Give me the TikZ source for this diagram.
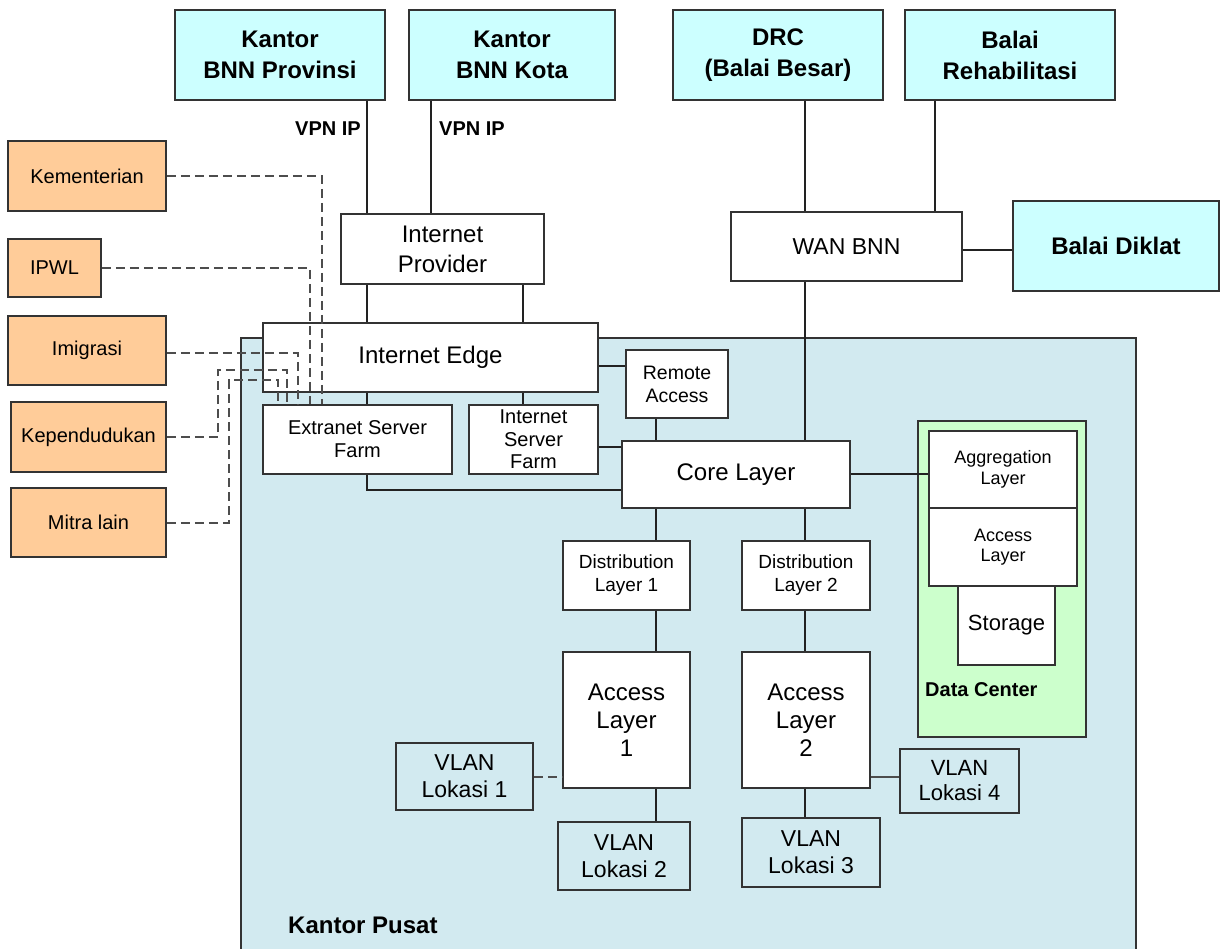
\documentclass[tikz,border=0pt]{standalone}
\usepackage{fontspec}
\setmainfont{Liberation Sans}
\definecolor{cyanbox}{HTML}{CCFFFF}
\definecolor{orangebox}{HTML}{FFCC99}
\definecolor{pusat}{HTML}{D2EAF0}
\definecolor{greenbox}{HTML}{CCFFCC}
\definecolor{edgecol}{HTML}{333333}
\definecolor{linecol}{HTML}{222222}
\definecolor{dashcol}{HTML}{4D4D4D}
\tikzset{
  box/.style={draw=edgecol, line width=1.8pt, inner sep=0pt, align=center, anchor=center},
  topbox/.style={box, fill=cyanbox, font=\fontsize{24}{31}\selectfont\bfseries},
  sidebox/.style={box, fill=orangebox, font=\fontsize{20}{24}\selectfont},
  whitebox/.style={box, fill=white},
  vlanbox/.style={box, font=\fontsize{23}{27}\selectfont},
  link/.style={draw=linecol, line width=2.1pt},
  glink/.style={draw=dashcol, line width=1.9pt},
  dlink/.style={draw=dashcol, line width=2pt, dash pattern=on 9pt off 5pt},
  lbl/.style={inner sep=0pt, font=\fontsize{20}{24}\selectfont\bfseries}
}
\begin{document}
\begin{tikzpicture}[x=1pt,y=-1pt]
\useasboundingbox (0,0) rectangle (1220,949);
% container
\node[draw=edgecol, line width=1.8pt, fill=pusat, minimum width=895pt, minimum height=615pt, inner sep=0pt, anchor=north west] (pusatbox) at (240,337) {};
\node[lbl, font=\fontsize{24}{28}\selectfont\bfseries, anchor=west] (pusatlbl) at (288,925) {Kantor Pusat};
% data center
\node[draw=edgecol, line width=1.8pt, fill=greenbox, minimum width=168pt, minimum height=316pt, inner sep=0pt, anchor=north west] (dcbox) at (917,420) {};
\node[lbl, anchor=west] (dclbl) at (925,690) {Data Center};

% top boxes
\node[topbox, minimum width=210pt, minimum height=90pt] (prov) at (280,55) {Kantor\\BNN Provinsi};
\node[topbox, minimum width=206pt, minimum height=90pt] (kota) at (512,55) {Kantor\\BNN Kota};
\node[topbox, minimum width=210pt, minimum height=90pt] (drc) at (778,55) {DRC\\(Balai Besar)};
\node[topbox, minimum width=210pt, minimum height=90pt] (rehab) at (1010,55) {Balai\\Rehabilitasi};
\node[topbox, minimum width=206pt, minimum height=90pt] (diklat) at (1116,246) {Balai Diklat};

% side boxes
\node[sidebox, minimum width=158pt, minimum height=70pt] (kem) at (87,176) {Kementerian};
\node[sidebox, minimum width=93pt, minimum height=58pt] (ipwl) at (54.5,268) {IPWL};
\node[sidebox, minimum width=158pt, minimum height=69pt] (imi) at (87,350.5) {Imigrasi};
\node[sidebox, minimum width=155pt, minimum height=70pt] (kep) at (88.5,437) {Kependudukan};
\node[sidebox, minimum width=155pt, minimum height=69pt] (mitra) at (88.5,522.5) {Mitra lain};

% white boxes
\node[whitebox, minimum width=231pt, minimum height=69pt, font=\fontsize{23}{28}\selectfont] (wan) at (846.5,246.5) {WAN BNN};
\node[whitebox, minimum width=203pt, minimum height=70pt, font=\fontsize{24}{30}\selectfont] (provider) at (442.5,249) {Internet\\Provider};
\node[whitebox, minimum width=335pt, minimum height=69pt, font=\fontsize{24}{28}\selectfont] (edge) at (430.5,357.5) {Internet Edge};
\node[whitebox, minimum width=102pt, minimum height=68pt, font=\fontsize{19.5}{23}\selectfont] (remote) at (677,384) {Remote\\Access};
\node[whitebox, minimum width=189pt, minimum height=69pt, font=\fontsize{20}{23}\selectfont] (extranet) at (357.5,439.5) {Extranet Server\\Farm};
\node[whitebox, minimum width=129pt, minimum height=69pt, font=\fontsize{20}{22.5}\selectfont] (isf) at (533.5,439.5) {Internet\\Server\\Farm};
\node[whitebox, minimum width=228pt, minimum height=67pt, font=\fontsize{24}{28}\selectfont] (core) at (736,474.5) {Core Layer};
\node[whitebox, minimum width=148pt, minimum height=77pt, font=\fontsize{18}{20.5}\selectfont] (agg) at (1003,469.5) {Aggregation\\Layer};
\node[whitebox, minimum width=148pt, minimum height=78pt, font=\fontsize{18}{20.5}\selectfont] (dcacc) at (1003,547) {Access\\Layer};
\node[whitebox, minimum width=97pt, minimum height=79pt, font=\fontsize{22}{26}\selectfont] (storage) at (1006.5,625.5) {Storage};
\node[whitebox, minimum width=127pt, minimum height=69pt, font=\fontsize{19}{23}\selectfont] (dist1) at (626.5,575.5) {Distribution\\Layer 1};
\node[whitebox, minimum width=128pt, minimum height=69pt, font=\fontsize{19}{23}\selectfont] (dist2) at (806,575.5) {Distribution\\Layer 2};
\node[whitebox, minimum width=127pt, minimum height=136pt, font=\fontsize{24}{28}\selectfont] (acc1) at (626.5,720) {Access\\Layer\\1};
\node[whitebox, minimum width=128pt, minimum height=136pt, font=\fontsize{24}{28}\selectfont] (acc2) at (806,720) {Access\\Layer\\2};
\node[vlanbox, minimum width=137pt, minimum height=67pt] (vlan1) at (464.5,776.5) {VLAN\\Lokasi 1};
\node[vlanbox, minimum width=132pt, minimum height=68pt] (vlan2) at (624,856) {VLAN\\Lokasi 2};
\node[vlanbox, minimum width=138pt, minimum height=69pt] (vlan3) at (811,852.5) {VLAN\\Lokasi 3};
\node[vlanbox, minimum width=119pt, minimum height=64pt, font=\fontsize{22}{25}\selectfont] (vlan4) at (959.5,781) {VLAN\\Lokasi 4};

% labels
\node[lbl, anchor=east] (vpn1) at (361,129) {VPN IP};
\node[lbl, anchor=west] (vpn2) at (439,129) {VPN IP};

% helper coordinates
\coordinate (x367) at (367,0);
\coordinate (x431) at (431,0);
\coordinate (x523) at (523,0);
\coordinate (x656) at (656,0);
\coordinate (x805) at (805,0);
\coordinate (x935) at (935,0);
\coordinate (y250) at (0,250);
\coordinate (y366) at (0,366);
\coordinate (y447) at (0,447);
\coordinate (y474) at (0,474);
\coordinate (y490) at (0,490);
\coordinate (y777) at (0,777);

% solid links
\draw[link] (prov.south -| x367) -- (provider.north -| x367);
\draw[link] (kota.south -| x431) -- (provider.north -| x431);
\draw[link] (drc.south -| x805) -- (wan.north -| x805);
\draw[link] (rehab.south -| x935) -- (wan.north -| x935);
\draw[link] (wan.east |- y250) -- (diklat.west |- y250);
\draw[link] (wan.south -| x805) -- (core.north -| x805);
\draw[link] (provider.south -| x367) -- (edge.north -| x367);
\draw[link] (provider.south -| x523) -- (edge.north -| x523);
\draw[link] (edge.south -| x367) -- (extranet.north -| x367);
\draw[link] (edge.south -| x523) -- (isf.north -| x523);
\draw[link] (edge.east |- y366) -- (remote.west |- y366);
\draw[link] (remote.south -| x656) -- (core.north -| x656);
\draw[link] (isf.east |- y447) -- (core.west |- y447);
\draw[link] (extranet.south -| x367) |- (core.west |- y490);
\draw[link] (core.east |- y474) -- (agg.west |- y474);
\draw[link] (core.south -| x656) -- (dist1.north -| x656);
\draw[link] (core.south -| x805) -- (dist2.north -| x805);
\draw[link] (dist1.south -| x656) -- (acc1.north -| x656);
\draw[link] (dist2.south -| x805) -- (acc2.north -| x805);
\draw[link] (acc1.south -| x656) -- (vlan2.north -| x656);
\draw[link] (acc2.south -| x805) -- (vlan3.north -| x805);
\draw[glink] (acc2.east |- y777) -- (vlan4.west |- y777);
\draw[dlink] (vlan1.east |- y777) -- (acc1.west |- y777);

% dashed external links
\coordinate (k1) at (322,176);
\coordinate (i1) at (310,268);
\coordinate (m1) at (298,353);
\coordinate (p1) at (218,370);
\coordinate (p2) at (287,370);
\coordinate (t1) at (229,380);
\coordinate (t2) at (278,380);
\draw[dlink] (kem.east) -- (k1) -- (extranet.north -| k1);
\draw[dlink] (ipwl.east) -- (i1) -- (extranet.north -| i1);
\draw[dlink] (imi.east |- m1) -- (m1) -- (extranet.north -| m1);
\draw[dlink] (kep.east) -| (p1) -- (p2) -- (extranet.north -| p2);
\draw[dlink] (mitra.east) -| (t1) -- (t2) -- (extranet.north -| t2);
\end{tikzpicture}
\end{document}
